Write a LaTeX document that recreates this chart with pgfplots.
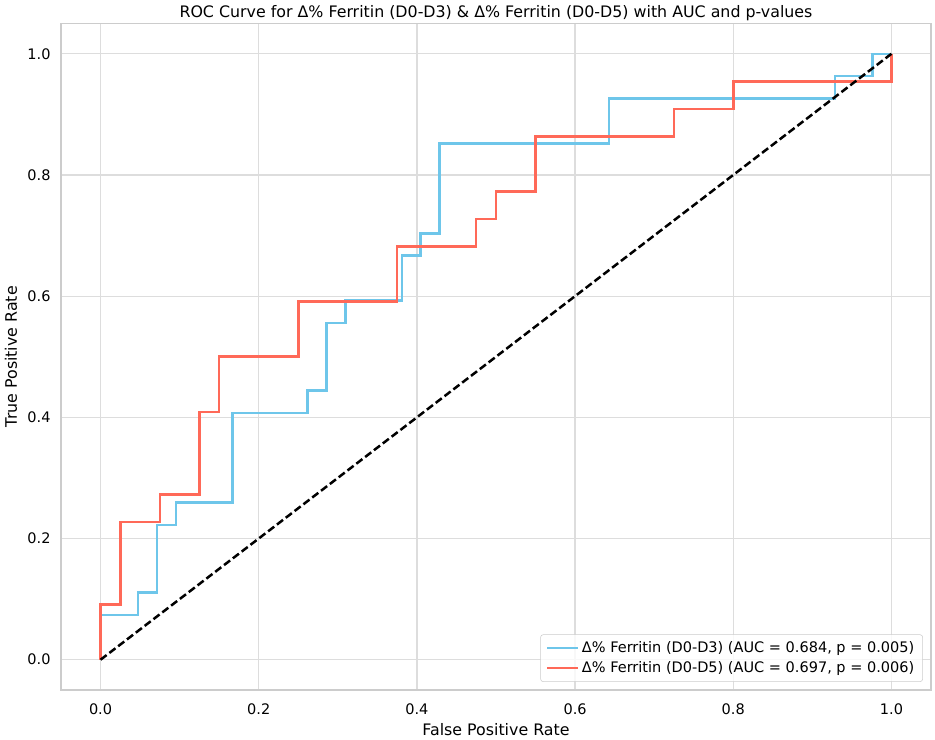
\documentclass[border=0pt]{standalone}
\usepackage{fontspec}
\setmainfont{DejaVu Sans}
\usepackage{pgfplots}
\pgfplotsset{compat=1.18}
\definecolor{cblue}{RGB}{110,198,234}
\definecolor{cred}{RGB}{255,105,88}
\definecolor{gridc}{RGB}{221,221,221}
\definecolor{spinec}{RGB}{204,204,204}
\begin{document}
\begin{tikzpicture}
\begin{axis}[
  name=ax,
  scale only axis, width=626.4pt, height=479.9pt,
  at={(0,0)}, anchor=south west,
  xmin=-0.05, xmax=1.05, ymin=-0.05, ymax=1.05,
  xtick={0,0.2,0.4,0.6,0.8,1.0}, ytick={0,0.2,0.4,0.6,0.8,1.0},
  xticklabels={0.0,0.2,0.4,0.6,0.8,1.0}, yticklabels={0.0,0.2,0.4,0.6,0.8,1.0},
  grid=major, major grid style={gridc, line width=0.9pt},
  axis line style={spinec, line width=1pt},
  major tick length=0pt,
  tick label style={font=\fontsize{10.45}{12}\selectfont, black},
  xticklabel style={yshift=-6pt},
  yticklabel style={xshift=-4pt},
  xlabel={False Positive Rate}, ylabel={True Positive Rate},
  label style={font=\fontsize{11.4}{13}\selectfont},
  xlabel style={yshift=0.5pt},
  ylabel style={yshift=0.5pt},
  legend cell align=left,
  legend style={at={(1,0)}, anchor=south east, xshift=-5.8pt, yshift=5.8pt,
    draw=spinec, rounded corners=2pt, fill=white, fill opacity=0.8, text opacity=1,
    font=\fontsize{10.45}{12.5}\selectfont, row sep=1pt, inner xsep=4pt, inner ysep=3pt},
  legend image code/.code={\draw[#1] (0pt,0pt) -- (22pt,0pt);},
]
\addplot[cblue, line width=1.8pt] coordinates {
(0,0) (0,0.0741) (0.0476,0.0741) (0.0476,0.1111) (0.0714,0.1111) (0.0714,0.2222)
(0.0952,0.2222) (0.0952,0.2593) (0.1667,0.2593) (0.1667,0.4074) (0.2619,0.4074)
(0.2619,0.4444) (0.2857,0.4444) (0.2857,0.5556) (0.3095,0.5556) (0.3095,0.5926)
(0.3810,0.5926) (0.3810,0.6667) (0.4048,0.6667) (0.4048,0.7037) (0.4286,0.7037)
(0.4286,0.8519) (0.6429,0.8519) (0.6429,0.9259) (0.9286,0.9259) (0.9286,0.9630)
(0.9762,0.9630) (0.9762,1) (1,1)};
\addlegendentry{Δ\% Ferritin (D0-D3) (AUC = 0.684, p = 0.005)}
\addplot[cred, line width=1.8pt] coordinates {
(0,0) (0,0.0909) (0.025,0.0909) (0.025,0.2273) (0.075,0.2273) (0.075,0.2727)
(0.125,0.2727) (0.125,0.4091) (0.15,0.4091) (0.15,0.5) (0.25,0.5) (0.25,0.5909)
(0.375,0.5909) (0.375,0.6818) (0.475,0.6818) (0.475,0.7273) (0.5,0.7273)
(0.5,0.7727) (0.55,0.7727) (0.55,0.8636) (0.725,0.8636) (0.725,0.9091)
(0.8,0.9091) (0.8,0.9545) (1,0.9545) (1,1)};
\addlegendentry{Δ\% Ferritin (D0-D5) (AUC = 0.697, p = 0.006)}
\addplot[black, line width=1.8pt, dash pattern=on 5.5pt off 2.5pt, forget plot] coordinates {(0,0) (1,1)};
\end{axis}
\node[anchor=base, inner sep=0pt, font=\fontsize{11.4}{13}\selectfont] at ([yshift=4.5pt]ax.north) {ROC Curve for Δ\% Ferritin (D0-D3) \& Δ\% Ferritin (D0-D5) with AUC and p-values};
\pgfresetboundingbox
\path (-43.92pt,-35.28pt) rectangle (629.28pt,496.8pt);
\end{tikzpicture}
\end{document}
